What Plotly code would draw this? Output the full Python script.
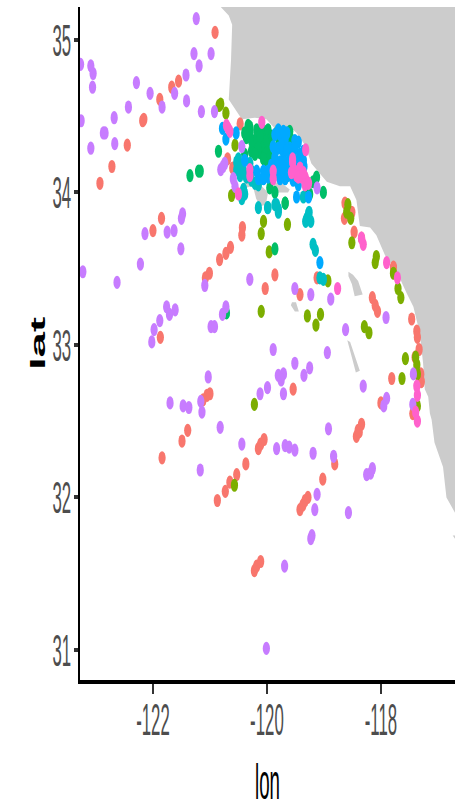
import plotly.graph_objects as go

land_lon = [-120.82,-120.67,-120.61,-120.63,-120.67,-120.51,-120.44,-120.21,-120.01,-119.86,-119.60,-119.48,-119.33,-119.22,-119.07,-118.95,-118.72,-118.54,-118.43,-118.37,-118.19,-118.08,-117.93,-117.72,-117.55,-117.43,-117.32,-117.26,-117.23,-117.17,-117.14,-117.11,-117.06,-116.91,-116.85,-116.70,-116.6,-116.6,-120.82,None,
            -120.42,-120.30,-120.26,-120.37,None,
            -120.23,-120.09,-119.98,-120.02,-120.12,-120.19,None,
            -119.91,-119.74,-119.60,-119.63,-119.81,-119.89,None,
            -119.56,-119.49,-119.44,-119.51,-119.58,None,
            -118.57,-118.49,-118.40,-118.32,-118.46,-118.51,-118.57,None,
            -118.59,-118.54,-118.37,-118.44,-118.51,None,
            -116.74,-116.68,-116.68]
land_lat = [35.22,35.16,35.10,34.87,34.61,34.52,34.48,34.49,34.48,34.42,34.43,34.39,34.31,34.19,34.12,34.07,34.04,34.04,33.95,33.78,33.77,33.72,33.59,33.48,33.34,33.25,33.08,32.88,32.71,32.66,32.55,32.51,32.36,32.20,32.00,31.90,31.90,35.3,35.3,None,
            34.06,34.08,34.04,34.03,None,
            34.02,34.04,34.00,33.92,33.91,33.96,None,
            34.07,34.06,34.02,34.00,34.00,34.03,None,
            33.28,33.28,33.22,33.22,33.26,None,
            33.48,33.46,33.42,33.33,33.32,33.40,33.45,None,
            33.03,33.02,32.83,32.82,32.92,None,
            31.75,31.75,31.72]

red_lon = [-120.91,-121.55,-121.67,-121.88,-122.16,-122.18,-122.45,-122.72,-122.93,-120.47,-118.63,-118.51,-118.64,-118.47,-118.34,-119.86,-120.03,-119.42,-119.12,-117.78,-118.15,-118.10,-118.06,-117.46,-117.37,-117.36,-117.33,-117.40,-117.30,-117.29,-117.81,-118.00,-119.54,-118.40,-118.34,-118.43,-118.38,-117.44,-121.85,-122.00,-120.43,-120.44,-120.64,-120.72,-120.83,-121.01,-121.08,-121.87,-121.00,-121.05,-121.12,-121.84,-121.49,-121.39,-120.87,-120.73,-120.65,-120.53,-120.37,-120.15,-120.11,-120.05,-119.42,-119.37,-119.33,-119.28,-119.02,-118.81,-120.22,-120.18,-120.11,-120.69,-120.60]
red_lat = [35.05,34.73,34.69,34.61,34.48,34.47,34.31,34.17,34.06,34.45,33.93,33.87,33.83,33.74,33.70,33.46,33.37,33.33,33.44,33.51,33.31,33.26,33.22,33.17,33.09,33.05,32.97,32.92,32.81,32.76,32.78,32.62,32.71,32.44,32.48,32.40,32.43,32.55,33.83,33.75,33.77,33.72,33.64,33.60,33.56,33.47,33.44,33.05,32.68,32.67,32.64,32.26,32.37,32.44,31.98,32.04,32.10,32.15,32.22,32.32,32.35,32.38,31.92,31.95,31.98,32.00,32.12,32.22,31.52,31.55,31.58,34.22,34.16]

olive_lon = [-120.81,-120.84,-120.72,-120.56,-120.62,-120.06,-120.10,-119.64,-119.96,-118.93,-118.60,-118.53,-118.58,-118.51,-118.08,-118.10,-117.78,-117.70,-117.65,-119.29,-119.06,-119.14,-120.10,-118.29,-118.21,-117.57,-117.63,-117.39,-117.37,-117.36,-117.36,-120.22,-120.57]
olive_lat = [34.58,34.57,34.52,34.31,33.98,33.81,33.73,33.79,33.61,33.42,33.87,33.83,33.92,33.67,33.58,33.54,33.47,33.37,33.31,33.19,33.20,33.13,33.22,33.12,33.08,32.91,32.78,32.92,32.87,32.81,32.60,32.61,32.08]

green_lon = [-120.33,-120.39,-120.30,-120.21,-120.24,-120.06,-120.12,-120.03,-120.06,-120.12,-119.98,-120.00,-120.27,-120.15,-120.00,-119.92,-119.80,-119.60,-119.58,-119.13,-119.01,-119.25,-119.19,-119.68,-119.86,-119.95,-120.85,-121.17,-120.39,-121.20,-121.35,-119.68,-119.86,-120.71,-119.30,
             -120.30,-120.27,-120.18,-120.09,-119.98,-120.18,-120.12,-120.00,-120.15,-120.03,-119.95,-120.21,-120.06,-119.92,-119.83,-120.36]
green_lat = [34.44,34.39,34.43,34.34,34.30,34.39,34.32,34.36,34.30,34.26,34.27,34.21,34.27,34.40,34.40,34.32,34.36,34.40,34.35,34.10,34.00,33.99,34.07,33.93,34.00,34.03,34.27,34.14,34.25,34.14,34.11,33.93,33.63,33.21,34.00,
             34.39,34.34,34.41,34.42,34.41,34.36,34.37,34.34,34.29,34.25,34.23,34.25,34.22,34.37,34.39,34.36]

teal_lon = [-120.53,-120.53,-120.41,-120.27,-120.15,-120.39,-120.44,-120.15,-119.98,-119.83,-119.27,-119.30,-119.36,-120.30,-120.27,-119.80,-119.86,-119.80,-119.99,-119.26,-119.32,-119.23,-119.19,-119.15,-119.07,-119.01,
            -120.47,-120.47,-120.36,-120.21,-120.50,-120.41]
teal_lat = [34.20,34.15,34.14,34.08,34.05,33.99,33.96,33.90,33.90,33.92,33.86,33.83,33.97,34.19,34.14,33.89,33.92,33.87,33.90,33.87,33.81,33.81,33.66,33.62,33.44,33.43,
            34.18,34.11,34.10,34.06,34.22,34.02]

blue_lon = [-120.78,-120.72,-120.54,-120.39,-119.77,-119.86,-119.65,-119.80,-119.77,-119.71,-119.98,-120.06,-120.18,-119.60,-119.63,-119.51,-119.45,-119.36,-119.35,-119.68,-119.71,-119.60,-119.48,-119.27,-119.80,-119.92,-119.68,-119.42,-119.07,
            -119.89,-119.86,-119.83,-119.74,-119.68,-119.65,-119.54,-119.48,-119.42,-119.63,-119.54,-119.45,-119.77,-119.89,-119.42,-119.74,-119.57,-120.15,-120.06,-119.98,-119.80,-119.71,-119.51,-119.36]
blue_lat = [34.42,34.35,34.39,34.21,34.38,34.38,34.39,34.29,34.20,34.13,34.14,34.14,34.14,34.29,34.17,34.34,34.33,34.21,34.17,34.09,34.26,34.21,33.97,33.97,34.13,34.18,34.34,34.25,33.54,
            34.30,34.23,34.17,34.31,34.20,34.28,34.25,34.20,34.18,34.11,34.08,34.05,34.09,34.10,34.23,34.15,34.15,34.09,34.09,34.10,34.41,34.40,34.29,34.27]

purple_lon = [-121.24,-120.98,-121.28,-121.19,-121.42,-123.27,-123.09,-123.05,-123.06,-122.29,-122.05,-121.62,-121.84,-121.41,-121.15,-120.92,-122.43,-122.68,-123.26,-122.87,-122.84,-122.67,-123.09,-120.44,-120.74,-120.81,-120.77,-120.59,-120.56,-119.12,-119.51,-119.23,-118.88,-117.91,-118.62,-119.89,-118.94,-119.51,-119.80,-119.71,-119.75,-119.35,-119.25,-119.99,-120.12,-119.71,-118.31,-117.90,-117.95,-117.43,-117.44,-118.92,-121.48,-121.50,-122.14,-121.75,-121.63,-121.51,-122.22,-123.23,-122.63,-121.09,-120.30,-121.76,-121.71,-121.61,-121.88,-121.98,-122.02,-120.72,-120.78,-120.98,-120.92,-121.03,-121.70,-121.47,-121.37,-121.16,-121.14,-121.17,-120.82,-120.44,-119.83,-119.68,-119.61,-119.51,-119.19,-118.83,-119.12,-119.16,-119.21,-119.23,-118.57,-118.25,-118.18,-118.15,-119.69,-120.01]
purple_lat = [35.14,34.91,34.91,34.83,34.77,34.84,34.83,34.78,34.69,34.72,34.65,34.65,34.56,34.60,34.53,34.53,34.56,34.49,34.47,34.39,34.39,34.32,34.29,34.30,34.19,34.15,34.17,34.09,34.04,34.03,33.37,33.33,33.30,33.18,33.10,32.97,32.95,32.88,32.80,32.81,32.77,32.80,32.85,32.72,32.68,32.68,32.73,32.65,32.60,32.81,32.61,32.45,33.86,33.83,33.73,33.74,33.75,33.63,33.53,33.48,33.41,33.39,33.43,33.25,33.20,33.23,33.16,33.10,33.02,33.25,33.20,33.12,33.12,32.79,32.62,32.60,32.59,32.63,32.56,32.18,32.46,32.35,32.32,32.34,32.33,32.31,32.29,32.27,32.02,31.92,31.75,31.73,31.90,32.15,32.16,32.19,31.55,31.01]

pink_lon = [-120.09,-120.71,-120.65,-120.68,-120.30,-119.89,-119.55,-119.51,-119.42,-119.33,-119.30,-119.39,-119.32,-120.50,-119.48,-118.31,-118.34,-117.90,-117.71,-118.76,-117.37,-117.36,-117.39,-117.36,
            -119.45,-119.36,-119.33,-119.27,-119.57,-119.89,-119.55,-120.30]
pink_lat = [34.46,34.44,34.40,34.42,34.15,34.14,34.22,34.14,34.16,34.10,34.07,34.10,34.28,33.99,34.11,33.66,33.70,33.54,33.44,33.37,32.73,32.67,32.56,32.50,
            34.10,34.13,34.05,34.06,34.13,34.09,34.20,34.11]

x_ticks = [-122, -120, -118]
x_tick_labels = ["-122", "-120", "-118"]
y_ticks = [31, 32, 33, 34, 35]
y_tick_labels = ["31", "32", "33", "34", "35"]

series = [
    ("a", red_lon, red_lat, "#F8766D"),
    ("b", olive_lon, olive_lat, "#7CAE00"),
    ("c", green_lon, green_lat, "#00BE67"),
    ("d", teal_lon, teal_lat, "#00BFC4"),
    ("e", blue_lon, blue_lat, "#00A9FF"),
    ("f", purple_lon, purple_lat, "#C77CFF"),
    ("g", pink_lon, pink_lat, "#FF61CC"),
]

fig = go.Figure()
fig.add_trace(go.Scatter(x=land_lon, y=land_lat, mode="lines", fill="toself",
                         fillcolor="#CCCCCC", line=dict(width=0), hoverinfo="skip",
                         showlegend=False, name="land"))
for name, lon, lat, color in series:
    fig.add_trace(go.Scatter(x=lon, y=lat, mode="markers", name=name, showlegend=False,
                             marker=dict(color=color, size=10, line=dict(width=0))))

FONT = "Liberation Sans, Arial, sans-serif"
fig.update_layout(
    width=459, height=802,
    margin=dict(l=80, r=4, t=7, b=122),
    plot_bgcolor="white", paper_bgcolor="white",
    showlegend=False,
    xaxis=dict(range=[-123.28, -116.70], tickmode="array", tickvals=x_ticks, ticktext=x_tick_labels,
               showgrid=False, zeroline=False, showline=True, linecolor="black", linewidth=4,
               ticks="outside", ticklen=10, tickwidth=1.5, tickcolor="#333333",
               tickfont=dict(family=FONT, size=24, color="#4D4D4D"),
               title=dict(text="lon", font=dict(family=FONT, size=26, color="black"), standoff=26)),
    yaxis=dict(range=[30.803, 35.216], tickmode="array", tickvals=y_ticks, ticktext=y_tick_labels,
               showgrid=False, zeroline=False, showline=True, linecolor="black", linewidth=2,
               ticks="outside", ticklen=4, tickwidth=4, tickcolor="#333333",
               tickfont=dict(family=FONT, size=24, color="#4D4D4D"),
               title=dict(text="<b>lat</b>", font=dict(family=FONT, size=24, color="black"), standoff=8)),
)

post = """
document.body.style.margin='0';
var gd=document.querySelector('.plotly-graph-div');
var svg=gd.querySelector('svg.main-svg');
function sc(el,sx,sy,dx,dy){
  var r=el.getBoundingClientRect(), s=svg.getBoundingClientRect();
  var cx=r.left+r.width/2-s.left, cy=r.top+r.height/2-s.top;
  var t=el.getAttribute('transform')||'';
  el.setAttribute('transform','translate('+(cx+dx)+','+(cy+dy)+') scale('+sx+','+sy+') translate('+(-cx)+','+(-cy)+') '+t);
}
gd.querySelectorAll('.scatterlayer path.point').forEach(function(p){
  p.setAttribute('transform',(p.getAttribute('transform')||'')+' scale(0.72,1.32)');
});
gd.querySelectorAll('.xtick text').forEach(function(t){sc(t,0.7,1.85,0,5);});
gd.querySelectorAll('.ytick text').forEach(function(t){sc(t,0.7,1.85,6,0);});
gd.querySelectorAll('.xtitle').forEach(function(t){sc(t,0.72,1.9,0,21);});
gd.querySelectorAll('.ytitle').forEach(function(t){sc(t,0.88,1.9,19,0);});
"""
fig.write_html("out.html", post_script=post, config={"displayModeBar": False})
